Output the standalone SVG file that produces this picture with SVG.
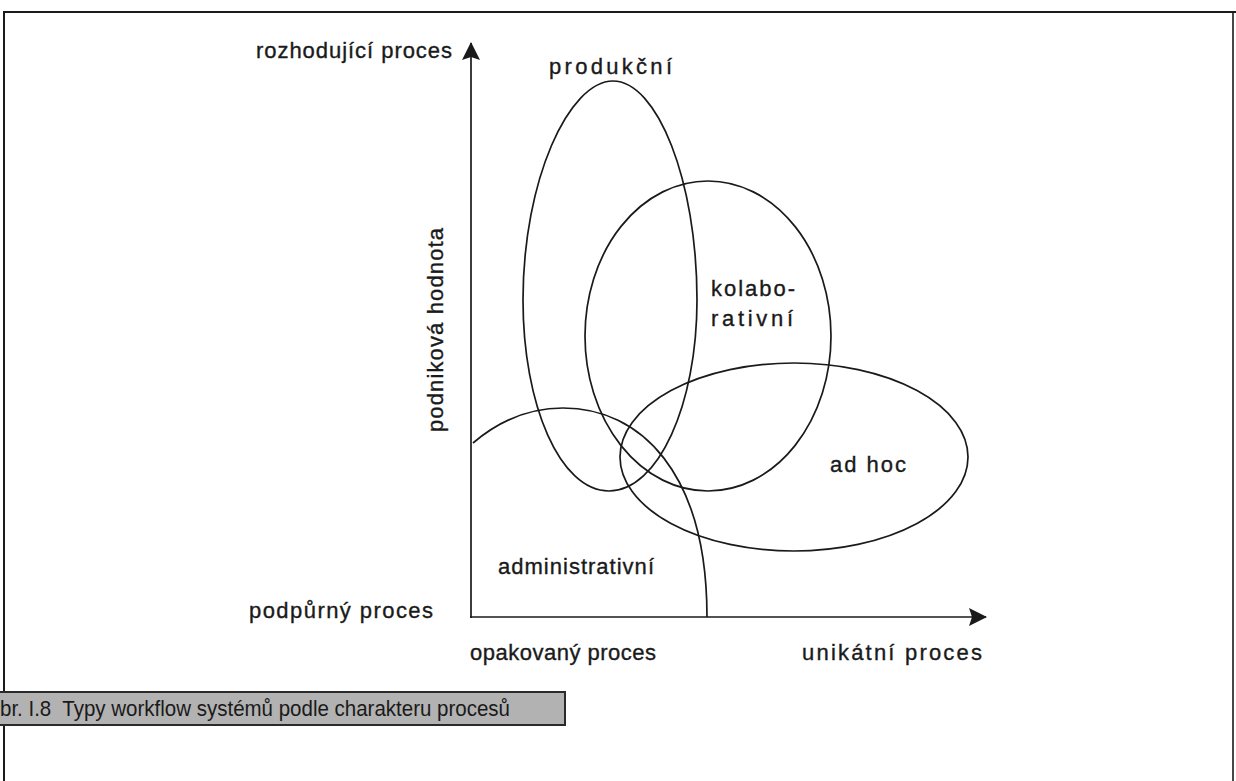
<svg xmlns="http://www.w3.org/2000/svg" width="1236" height="781" viewBox="0 0 1236 781">
<style>
.t{font-family:"Liberation Sans",Arial,sans-serif;font-size:22px;fill:#1a1a1a;stroke:#1a1a1a;stroke-width:0.35}
.shape{fill:none;stroke:#1a1a1a;stroke-width:1.7}
.axis{fill:none;stroke:#1a1a1a;stroke-width:1.7}
</style>
<defs>
<marker id="ah" viewBox="0 0 18 18" refX="17" refY="9" markerWidth="18" markerHeight="18" markerUnits="userSpaceOnUse" orient="auto">
<path d="M0,0 L18,9 L0,18 L3,9 Z" fill="#1a1a1a"/>
</marker>
</defs>
<rect width="1236" height="781" fill="#ffffff"/>
<g id="frame" fill="none" stroke="#1a1a1a">
<path d="M4,781 L4,12 L1236,12" stroke-width="2"/>
<path d="M1233,12 L1233,781" stroke-width="1.6"/>
</g>
<g id="connectors">
<path class="axis" d="M471,618 L471,43" marker-end="url(#ah)"/>
<path class="axis" d="M470,617 L986,617" marker-end="url(#ah)"/>
</g>
<g id="axis-labels">
<text class="t" x="256" y="58" textLength="196" lengthAdjust="spacing">rozhodující proces</text>
<text class="t" x="249" y="618" textLength="184" lengthAdjust="spacing">podpůrný proces</text>
<text class="t" x="470" y="660" textLength="186" lengthAdjust="spacing">opakovaný proces</text>
<text class="t" x="802" y="660" textLength="180" lengthAdjust="spacing">unikátní proces</text>
<text class="t" transform="translate(443,432) rotate(-90)" textLength="204" lengthAdjust="spacing">podniková hodnota</text>
</g>
<g id="produkcni">
<path class="shape" d="M613,81 C657,81 697,180 697,300 C697,405 658,491 609,491 C560,491 523,405 523,300 C523,180 569,81 613,81 Z"/>
<text class="t" x="549" y="74" textLength="123" lengthAdjust="spacing">produkční</text>
</g>
<g id="kolaborativni">
<ellipse class="shape" cx="708" cy="336" rx="123" ry="155"/>
<text class="t" x="711" y="296" textLength="84" lengthAdjust="spacing">kolabo-</text>
<text class="t" x="711" y="326" textLength="82" lengthAdjust="spacing">rativní</text>
</g>
<g id="adhoc">
<ellipse class="shape" cx="794" cy="457" rx="174" ry="94"/>
<text class="t" x="830" y="472" textLength="76" lengthAdjust="spacing">ad hoc</text>
</g>
<g id="administrativni">
<path class="shape" d="M473,443 C500,420 530,408 563,408 C640,408 707,472 707,617"/>
<text class="t" x="498" y="574" textLength="156" lengthAdjust="spacing">administrativní</text>
</g>
<g id="caption">
<rect x="-2" y="692" width="567" height="33" fill="#b2b2b2" stroke="#2a2a2a" stroke-width="2"/>
<text x="0" y="716" font-family="'Liberation Sans',Arial,sans-serif" font-size="22" fill="#1a1a1a" textLength="510" lengthAdjust="spacingAndGlyphs" xml:space="preserve">br. I.8  Typy workflow systémů podle charakteru procesů</text>
</g>
</svg>
